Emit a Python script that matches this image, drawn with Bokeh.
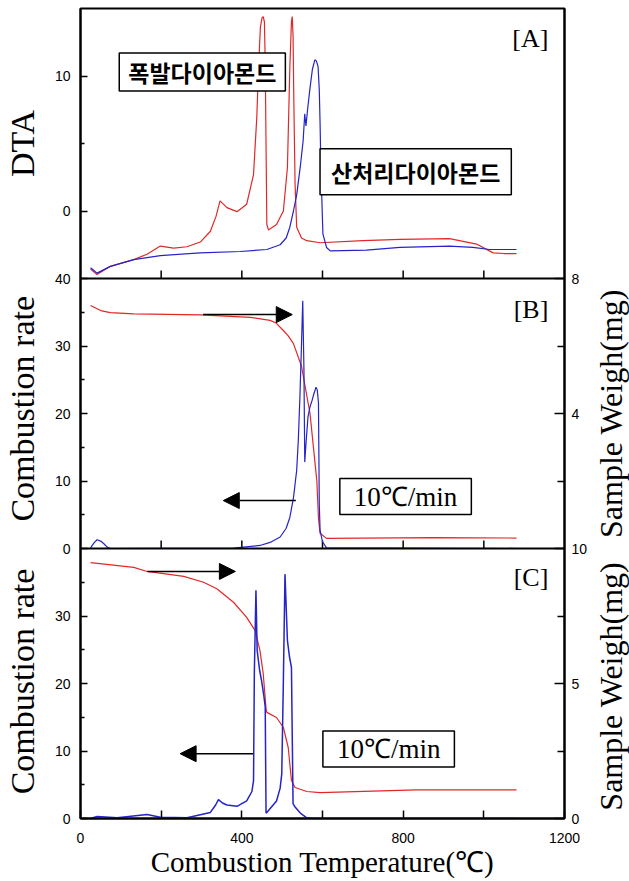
from math import pi

from bokeh.core.properties import value
from bokeh.embed import file_html
from bokeh.layouts import row
from bokeh.models import (Arrow, FixedTicker, Label, LinearAxis, NormalHead,
                          Range1d, Span)
from bokeh.plotting import figure
from bokeh.resources import INLINE

# ---------------------------------------------------------------- data
# [A] DTA curves
dta_det_t = [25, 41, 74, 132, 165, 198, 231, 264, 297, 322, 336, 346, 363, 388,
             412, 429, 437, 442, 446, 450, 453, 456, 458, 460, 462, 466, 486,
             503, 513, 519, 523, 525, 527, 529, 532, 536, 548, 561, 594, 700,
             792, 915, 982, 1023, 1050, 1081]
dta_det_v = [-4.3, -4.7, -4.1, -3.6, -3.2, -2.6, -2.75, -2.65, -2.3, -1.5, -0.4,
             0.75, 0.25, -0.05, 0.5, 2.7, 6.9, 11.0, 13.6, 14.3, 14.4, 14.0,
             11.0, 5.0, -1.0, -1.4, -1.0, 0.0, 3.2, 10.6, 14.0, 14.4, 13.0,
             8.0, 2.0, -1.2, -2.0, -2.2, -2.35, -2.2, -2.1, -2.05, -2.45,
             -3.1, -3.15, -3.15]

dta_acid_t = [25, 41, 74, 132, 198, 297, 396, 462, 495, 510, 519, 528, 536,
              545, 552, 556, 559, 564, 569, 575, 581, 585, 589, 592, 594, 596,
              601, 610, 619, 709, 792, 915, 973, 1014, 1081]
dta_acid_v = [-4.2, -4.6, -4.1, -3.6, -3.3, -3.1, -3.0, -2.85, -2.5, -2.0, -1.2,
              0.0, 1.2, 3.3, 5.2, 7.2, 6.3, 7.8, 9.1, 10.5, 11.2, 11.1, 10.7,
              9.0, 6.5, 3.2, -1.7, -2.7, -2.95, -2.9, -2.7, -2.6, -2.7, -2.85,
              -2.85]

# [B] weight (mg) and combustion rate
b_wt_t = [25, 50, 74, 132, 297, 421, 470, 485, 503, 515, 528, 548, 569, 586,
          590, 594, 610, 874, 1081]
b_wt_v = [7.2, 7.05, 6.99, 6.95, 6.92, 6.85, 6.76, 6.68, 6.46, 6.3, 6.07, 5.4,
          4.0, 2.0, 0.9, 0.45, 0.3, 0.32, 0.31]

b_rate_t = [25, 33, 41, 50, 58, 66, 74, 380, 445, 470, 495, 510, 519, 528, 536,
            540, 544, 548, 551, 554, 556, 559, 564, 569, 574, 579, 584, 587,
            590, 592, 594, 600, 610, 1081]
b_rate_v = [0.1, 0.8, 1.3, 1.1, 0.7, 0.2, 0.0, 0.05, 0.45, 0.9, 1.7, 3.0, 4.6,
            7.5, 11.6, 16.0, 22.4, 30.4, 36.7, 26.4, 12.8, 15.5, 19.5, 21.0,
            21.9, 23.0, 23.9, 23.5, 21.6, 6.6, 2.7, 1.0, 0.1, 0.0]

# [C] weight (mg) and combustion rate
c_wt_t = [25, 132, 165, 256, 305, 338, 380, 412, 433, 445, 453, 460, 462, 486,
          503, 515, 523, 532, 561, 594, 833, 1081]
c_wt_v = [9.48, 9.3, 9.15, 8.97, 8.75, 8.51, 8.0, 7.45, 6.96, 6.22, 5.37, 4.07,
          3.93, 3.74, 3.37, 2.63, 1.41, 1.15, 1.0, 0.96, 1.06, 1.06]

c_rate_t = [25, 41, 91, 165, 198, 264, 322, 335, 342, 352, 363, 388, 412, 425,
            429, 431, 435, 438, 444, 449, 455, 458, 460, 462, 486, 495, 499,
            503, 507, 513, 518, 523, 527, 532, 545, 561, 580, 1081]
c_rate_v = [0.0, 0.3, 0.1, 0.6, 0.2, 0.1, 0.9, 2.0, 2.8, 2.3, 2.0, 1.8, 2.6,
            4.0, 5.6, 21.5, 33.8, 24.9, 22.0, 20.4, 18.0, 16.5, 0.8, 0.9, 2.6,
            4.5, 6.6, 20.4, 36.2, 26.4, 24.0, 22.4, 2.2, 1.7, 0.8, 0.1, 0.0,
            0.0]

# axis limits and tick values per panel
dta_lim, rate_lim = (-5, 15), (0, 40)
wt_b_lim, wt_c_lim = (0, 8), (0, 10)
x_major = [0, 400, 800, 1200]
x_minor = [200, 600, 1000]
dta_major, dta_minor = [0, 10], [5]
rate_major, rate_minor = [0, 10, 20, 30, 40], [5, 15, 25, 35]
wt_b_major, wt_b_minor = [0, 4, 8], [2, 6]
wt_c_major, wt_c_minor = [0, 5, 10], [2.5, 7.5]

RED = "#e02828"
BLUE = "#2424c8"
SERIF = "Liberation Serif"
SANS = "Liberation Sans"
KOREAN = "Noto Sans CJK KR"

FRAME_H = 810
TOP, BOTTOM = 8, 63


def panel_range(k, lim):
    """Range that places lim into slot k (0 = bottom) of three stacked panels."""
    lo, hi = lim
    span = hi - lo
    return Range1d(lo - k * span, hi + (2 - k) * span)


def panel_pos(k, lim, v):
    lo, hi = lim
    return k + (v - lo) / (hi - lo)


base_y = Range1d(0, 3)
ranges = {
    "dta": panel_range(2, dta_lim),
    "rate_b": panel_range(1, rate_lim),
    "wt_b": panel_range(1, wt_b_lim),
    "rate_c": panel_range(0, rate_lim),
    "wt_c": panel_range(0, wt_c_lim),
}

# --------------------------------------------------------------- figure
p = figure(frame_width=484, frame_height=FRAME_H, x_range=Range1d(0, 1200),
           y_range=base_y, output_backend="svg", toolbar_location=None,
           x_axis_location=None, y_axis_location=None,
           min_border_left=40, min_border_right=25, min_border_top=TOP,
           min_border_bottom=BOTTOM)
p.extra_y_ranges = ranges
p.xgrid.visible = False
p.ygrid.visible = False
p.outline_line_color = "black"
p.outline_line_width = 2
p.background_fill_color = "white"
p.border_fill_color = "white"

# ------------------------------------------------------------------ axes
left_major, left_minor, left_text = [], [], {}
for k, lim, major, minor in [(0, rate_lim, rate_major, rate_minor),
                             (1, rate_lim, rate_major, rate_minor),
                             (2, dta_lim, dta_major, dta_minor)]:
    for v in major:
        pos = panel_pos(k, lim, v)
        if pos not in left_text:
            left_major.append(pos)
        left_text[pos] = str(v)
    left_minor += [panel_pos(k, lim, v) for v in minor]

right_major, right_minor, right_text = [], [], {}
for k, lim, major, minor in [(1, wt_b_lim, wt_b_major, wt_b_minor),
                             (0, wt_c_lim, wt_c_major, wt_c_minor)]:
    for v in major:
        pos = panel_pos(k, lim, v)
        if pos not in right_text:
            right_major.append(pos)
        right_text[pos] = str(v)
    right_minor += [panel_pos(k, lim, v) for v in minor]

tick_font = dict(major_label_text_font=SANS, major_label_text_font_size="14px",
                 major_label_text_color="black", axis_line_width=2,
                 major_tick_line_width=1.5, minor_tick_line_width=1.5,
                 major_tick_out=0, minor_tick_out=0)

left_axis = LinearAxis(ticker=FixedTicker(ticks=left_major, minor_ticks=left_minor),
                       major_label_overrides=left_text, major_tick_in=7,
                       minor_tick_in=4, major_label_standoff=10, **tick_font)
right_axis = LinearAxis(ticker=FixedTicker(ticks=right_major, minor_ticks=right_minor),
                        major_label_overrides=right_text, major_tick_in=10,
                        minor_tick_in=7, major_label_standoff=7, **tick_font)
bottom_axis = LinearAxis(ticker=FixedTicker(ticks=x_major, minor_ticks=x_minor),
                         major_tick_in=8, minor_tick_in=8, major_label_standoff=14,
                         axis_label="Combustion Temperature(℃)",
                         axis_label_text_font=SERIF,
                         axis_label_text_font_size="29px",
                         axis_label_text_font_style="normal",
                         axis_label_text_color="black",
                         axis_label_standoff=0, **tick_font)
p.add_layout(left_axis, "left")
p.add_layout(right_axis, "right")
p.add_layout(bottom_axis, "below")

# panel separators with the inward ticks of the upper panels' bottom axes
inner = [x for x in sorted(x_major + x_minor) if 0 < x < 1200]
for sep in (1, 2):
    p.add_layout(Span(location=sep, dimension="width", line_color="black",
                      line_width=2))
    p.segment(x0=inner, y0=[sep] * len(inner), x1=inner,
              y1=[sep + 8 / 270] * len(inner), line_color="black",
              line_width=1.5)

# ---------------------------------------------------------------- curves
p.line(dta_det_t, dta_det_v, y_range_name="dta", line_color=RED, line_width=1.2)
p.line(dta_acid_t, dta_acid_v, y_range_name="dta", line_color=BLUE, line_width=1.2)
p.line(b_wt_t, b_wt_v, y_range_name="wt_b", line_color=RED, line_width=1.2)
p.line(b_rate_t, b_rate_v, y_range_name="rate_b", line_color=BLUE, line_width=1.2)
p.line(c_wt_t, c_wt_v, y_range_name="wt_c", line_color=RED, line_width=1.2)
p.line(c_rate_t, c_rate_v, y_range_name="rate_c", line_color=BLUE, line_width=1.5)

# ------------------------------------------------------ panel annotations
tag_style = dict(text_font=SERIF, text_font_size="26px", text_color="black",
                 text_align="right", text_baseline="middle")
p.add_layout(Label(x=1160, y=12.8, y_range_name="dta", text="[A]", **tag_style))
p.add_layout(Label(x=1160, y=35.4, y_range_name="rate_b", text="[B]", **tag_style))
p.add_layout(Label(x=1160, y=35.7, y_range_name="rate_c", text="[C]", **tag_style))

# padding is (horizontal, vertical)
box_style = dict(text_align="center", text_baseline="middle", text_color="black",
                 background_fill_color="white", border_line_color="black",
                 border_line_width=1.5)
p.add_layout(Label(x=302, y=10.3, y_range_name="dta", text="폭발다이아몬드",
                   text_font=KOREAN, text_font_size="23px", text_font_style="bold",
                   padding=(9, 2), **box_style))
p.add_layout(Label(x=831, y=2.9, y_range_name="dta", text="산처리다이아몬드",
                   text_font=KOREAN, text_font_size="23px", text_font_style="bold",
                   padding=(11, 6), **box_style))
p.add_layout(Label(x=806, y=7.7, y_range_name="rate_b", text="10℃/min",
                   text_font=SERIF, text_font_size="27px", padding=(14, 3),
                   **box_style))
p.add_layout(Label(x=764, y=10.3, y_range_name="rate_c", text="10℃/min",
                   text_font=SERIF, text_font_size="27px", padding=(14, 3),
                   **box_style))

# arrows pointing to the axis each curve belongs to
for name, x0, x1, y in [("wt_b", 304, 525, 6.93), ("rate_b", 534, 354, 7.1),
                        ("wt_c", 166, 384, 9.15), ("rate_c", 428, 247, 9.6)]:
    p.add_layout(Arrow(x_start=x0, y_start=y, x_end=x1, y_end=y,
                       y_range_name=name, line_color="black", line_width=1.5,
                       end=NormalHead(size=16, fill_color="black",
                                      line_color="black")))


# ----------------------------------------------- side strips for y titles
def title_strip(width, x_center, size, items):
    s = figure(frame_width=width, frame_height=FRAME_H, x_range=Range1d(0, width),
               y_range=base_y, output_backend="svg", toolbar_location=None,
               x_axis_location=None, y_axis_location=None, min_border_left=0,
               min_border_right=0, min_border_top=TOP, min_border_bottom=BOTTOM)
    s.extra_y_ranges = ranges
    s.outline_line_color = None
    s.xgrid.visible = False
    s.ygrid.visible = False
    for name, y, text in items:
        s.text(x=[x_center], y=[y], text=[text], y_range_name=name,
               angle=pi / 2, text_font=value(SERIF), text_font_size=size,
               text_color="black", text_align="center", text_baseline="middle")
    return s


left_strip = title_strip(40, 22, "34px", [("dta", 5, "DTA"),
                                          ("rate_b", 20.7, "Combustion rate"),
                                          ("rate_c", 20.3, "Combustion rate")])
right_strip = title_strip(40, 20, "32px", [("wt_b", 4.0, "Sample Weigh(mg)"),
                                           ("wt_c", 4.9, "Sample Weigh(mg)")])

layout = row(left_strip, p, right_strip, spacing=0)
open("out.html", "w").write(file_html(layout, INLINE))
